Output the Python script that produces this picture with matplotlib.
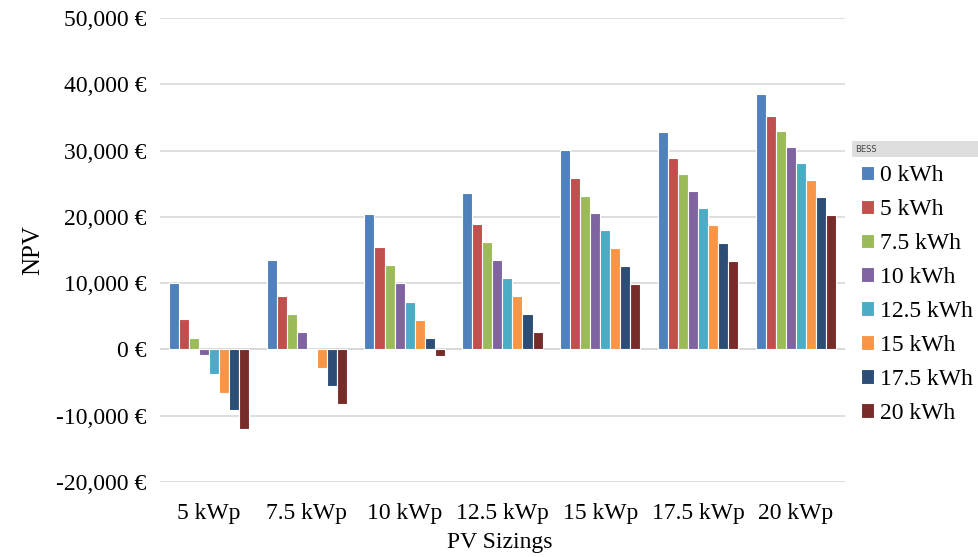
import numpy as np
from matplotlib import pyplot as plt
from matplotlib.patches import Rectangle
from matplotlib.ticker import FuncFormatter

pv_sizes = ['5 kWp', '7.5 kWp', '10 kWp', '12.5 kWp', '15 kWp', '17.5 kWp', '20 kWp']
bess_labels = ['0 kWh', '5 kWh', '7.5 kWh', '10 kWh', '12.5 kWh', '15 kWh', '17.5 kWh', '20 kWh']

# NPV per PV sizing, one list per battery size
npv_0 = [10000, 13500, 20400, 23600, 30100, 32800, 38600]
npv_5 = [4600, 8100, 15400, 18900, 25800, 28900, 35200]
npv_75 = [1800, 5400, 12700, 16200, 23200, 26500, 32900]
npv_10 = [-900, 2700, 10000, 13500, 20600, 23900, 30600]
npv_125 = [-3700, -100, 7200, 10800, 18000, 21300, 28100]
npv_15 = [-6500, -2800, 4500, 8100, 15300, 18700, 25600]
npv_175 = [-9200, -5500, 1800, 5400, 12600, 16000, 23000]
npv_20 = [-12000, -8300, -1000, 2600, 9900, 13400, 20300]

series = [npv_0, npv_5, npv_75, npv_10, npv_125, npv_15, npv_175, npv_20]
colors = ['#4F81BD', '#C0504D', '#9BBB59', '#8064A2', '#4BACC6', '#F79646', '#2C4D75', '#772C2A']

plt.rcParams['font.family'] = ['Liberation Serif', 'DejaVu Serif']

fig = plt.figure(figsize=(9.79, 5.57), dpi=100)
ax = fig.add_axes([0.1634, 0.1346, 0.6996, 0.8331])

x = np.arange(len(pv_sizes))
n = len(series)
bw = 0.82 / n
for i, vals in enumerate(series):
    ax.bar(x - 0.41 + bw * (i + 0.5), vals, width=bw, color=colors[i],
           edgecolor='white', linewidth=0.8, label=bess_labels[i], zorder=3)

ax.set_xlim(-0.5, len(pv_sizes) - 0.5)
ax.set_ylim(-20000, 50000)
ax.set_yticks(np.arange(-20000, 50001, 10000))
ax.yaxis.set_major_formatter(FuncFormatter(lambda v, p: '{:,.0f} €'.format(v)))
ax.set_xticks(x)
ax.set_xticklabels(pv_sizes)
ax.tick_params(length=0, labelsize=17)
ax.tick_params(axis='y', pad=10)
ax.tick_params(axis='x', pad=15)
ax.grid(axis='y', color='#d9d9d9', linewidth=1.2, zorder=0)
for s in ax.spines.values():
    s.set_visible(False)
ax.axhline(0, color='#d0d0d0', linewidth=1.3, zorder=1)

ax.set_ylabel('NPV', fontsize=18, va='center')
ax.yaxis.set_label_coords(-0.185, 0.5)
ax.set_xlabel('PV Sizings', fontsize=17, va='center')
ax.xaxis.set_label_coords(0.496, -0.131)

# legend header bar
fig.patches.append(Rectangle((852 / 979, 1 - 157 / 557), 127 / 979, 16 / 557,
                             transform=fig.transFigure, facecolor='#dedede',
                             edgecolor='none'))
fig.text(855 / 979, 1 - 149 / 557, 'BESS', fontsize=6, family='DejaVu Sans',
         color='#444444', va='center')

leg = fig.legend(loc='upper left', bbox_to_anchor=(861 / 979, 1 - 165 / 557),
                 frameon=False, fontsize=17, handlelength=0.55, handleheight=0.55,
                 handletextpad=0.25, labelspacing=0.55, borderaxespad=0,
                 borderpad=0)

plt.savefig('out.png')
